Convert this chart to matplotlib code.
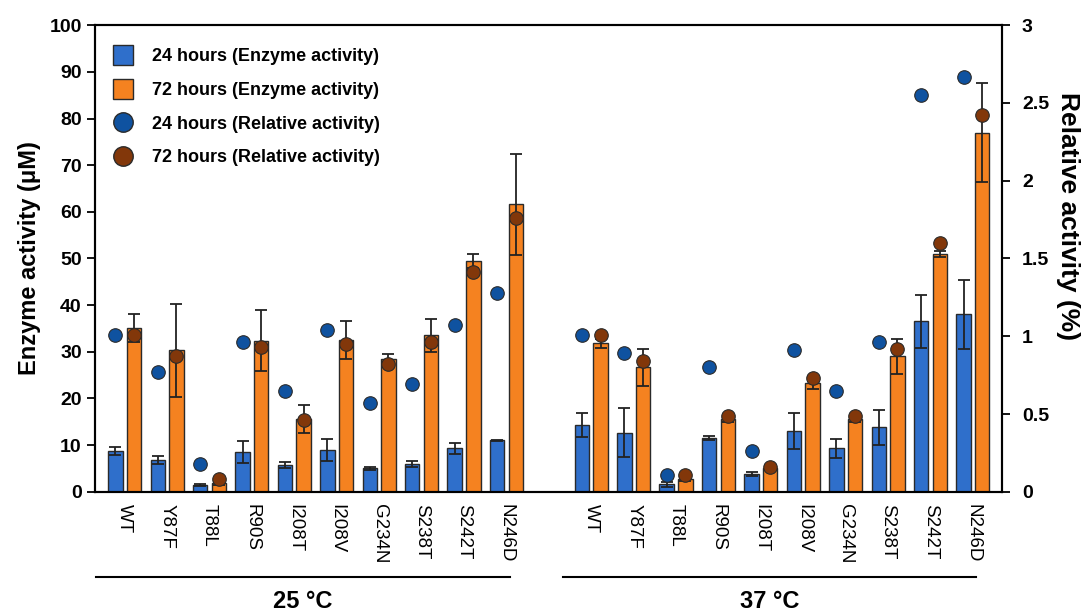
import numpy as np
import matplotlib
matplotlib.use("Agg")
import matplotlib.pyplot as plt
import matplotlib.transforms as mtransforms
from matplotlib.lines import Line2D

plt.rcParams['font.family'] = ['Liberation Sans', 'DejaVu Sans']

mutants = ["WT", "Y87F", "T88L", "R90S", "I208T", "I208V", "G234N", "S238T", "S242T", "N246D"]
groups = ["25 °C", "37 °C"]

# 25 °C
enz24_25 = [8.7, 6.8, 1.5, 8.5, 5.7, 9.0, 5.0, 6.0, 9.3, 11.0]
enz24_25_err = [0.8, 0.8, 0.2, 2.4, 0.6, 2.3, 0.3, 0.7, 1.2, 0.2]
enz72_25 = [35.2, 30.3, 1.8, 32.4, 15.5, 32.5, 28.5, 33.5, 49.5, 61.6]
enz72_25_err = [3.0, 10.0, 0.3, 6.5, 3.0, 4.0, 1.0, 3.5, 1.5, 10.8]
rel24_25 = [1.01, 0.77, 0.18, 0.96, 0.65, 1.04, 0.57, 0.69, 1.07, 1.28]
rel72_25 = [1.01, 0.87, 0.08, 0.93, 0.46, 0.95, 0.82, 0.96, 1.41, 1.76]

# 37 °C
enz24_37 = [14.3, 12.7, 1.6, 11.5, 3.8, 13.0, 9.3, 13.8, 36.5, 38.0]
enz24_37_err = [2.6, 5.2, 0.5, 0.4, 0.4, 3.8, 2.1, 3.7, 5.7, 7.3]
enz72_37 = [31.8, 26.7, 2.8, 15.5, 5.2, 23.3, 15.5, 29.0, 51.0, 77.0]
enz72_37_err = [1.0, 4.0, 0.4, 0.5, 0.4, 1.2, 0.5, 3.8, 0.7, 10.6]
rel24_37 = [1.01, 0.89, 0.11, 0.80, 0.26, 0.91, 0.65, 0.96, 2.55, 2.67]
rel72_37 = [1.01, 0.84, 0.11, 0.49, 0.16, 0.73, 0.49, 0.92, 1.60, 2.42]

c_blue = "#2F6FCB"
c_orange = "#F58220"
c_dblue = "#0F52A0"
c_brown = "#82370A"
edge = "#2a2a2a"

## combine both temperatures, leave one empty slot between
x = np.concatenate([np.arange(10), np.arange(10) + 11])
enz24 = np.array(enz24_25 + enz24_37)
enz24_err = np.array(enz24_25_err + enz24_37_err)
enz72 = np.array(enz72_25 + enz72_37)
enz72_err = np.array(enz72_25_err + enz72_37_err)
rel24 = np.array(rel24_25 + rel24_37)
rel72 = np.array(rel72_25 + rel72_37)

w = 0.34
off = 0.22

fig = plt.figure(figsize=(10.83, 6.14), dpi=100)
ax = fig.add_axes([0.0877, 0.199, 0.8373, 0.760])

ax.bar(x - off, enz24, w, color=c_blue, edgecolor=edge, linewidth=1, zorder=2)
ax.bar(x + off, enz72, w, color=c_orange, edgecolor=edge, linewidth=1, zorder=2)
ekw = dict(fmt='none', ecolor='#222222', elinewidth=1.3, capsize=4, capthick=1.3, zorder=3)
ax.errorbar(x - off, enz24, yerr=enz24_err, **ekw)
ax.errorbar(x + off, enz72, yerr=enz72_err, **ekw)

ax.set_xlim(-0.7, 20.68)
ax.set_ylim(0, 100)
ax.set_yticks(np.arange(0, 101, 10))
ax.set_xticks(x)
ax.set_xticklabels(mutants + mutants, rotation=-90, fontsize=13.5, va='top')
ax.tick_params(axis='x', length=0, pad=9)
ax.tick_params(axis='y', direction='out', length=5.5, width=1.3, labelsize=14, pad=4)
for lab in ax.get_yticklabels():
    lab.set_fontweight('bold')
ax.set_ylabel("Enzyme activity (μM)", fontsize=17, fontweight='bold', labelpad=6)
for s in ax.spines.values():
    s.set_linewidth(1.5)

ax2 = ax.twinx()
ax2.scatter(x - off, rel24, s=95, color=c_dblue, edgecolor=edge, linewidth=0.8, zorder=4)
ax2.scatter(x + off, rel72, s=95, color=c_brown, edgecolor=edge, linewidth=0.8, zorder=4)
ax2.set_ylim(0, 3)
ax2.set_yticks([0, 0.5, 1, 1.5, 2, 2.5, 3])
ax2.set_yticklabels(["0", "0.5", "1", "1.5", "2", "2.5", "3"])
ax2.tick_params(axis='y', direction='out', length=5.5, width=1.3, labelsize=14, pad=9)
for lab in ax2.get_yticklabels():
    lab.set_fontweight('bold')
ax2.text(1.073, 0.59, "Relative activity (%)", transform=ax2.transAxes, rotation=-90,
         ha='center', va='center', fontsize=19, fontweight='bold')
for s in ax2.spines.values():
    s.set_linewidth(1.5)

## group lines under the labels
trans = mtransforms.blended_transform_factory(ax.transData, ax.transAxes)
spans = [(-0.68, 9.08), (10.33, 20.07)]
for (a, b), g in zip(spans, groups):
    ax.plot([a, b], [-0.182, -0.182], color='black', linewidth=1.5, transform=trans, clip_on=False)
    ax.text((a + b) / 2, -0.235, g, transform=trans, ha='center', va='center',
            fontsize=17, fontweight='bold')

handles = [
    Line2D([], [], linestyle='none', marker='s', markersize=14, markerfacecolor=c_blue, markeredgecolor=edge),
    Line2D([], [], linestyle='none', marker='s', markersize=14, markerfacecolor=c_orange, markeredgecolor=edge),
    Line2D([], [], linestyle='none', marker='o', markersize=14, markerfacecolor=c_dblue, markeredgecolor=edge),
    Line2D([], [], linestyle='none', marker='o', markersize=14, markerfacecolor=c_brown, markeredgecolor=edge),
]
labels = ["24 hours (Enzyme activity)", "72 hours (Enzyme activity)",
          "24 hours (Relative activity)", "72 hours (Relative activity)"]
leg = ax2.legend(handles, labels, loc='upper left', bbox_to_anchor=(-0.007, 0.985), frameon=False,
                 prop={'size': 13, 'weight': 'bold'}, labelspacing=0.92, handletextpad=0.6,
                 borderaxespad=0.5)

fig.savefig("out.png", dpi=100)
